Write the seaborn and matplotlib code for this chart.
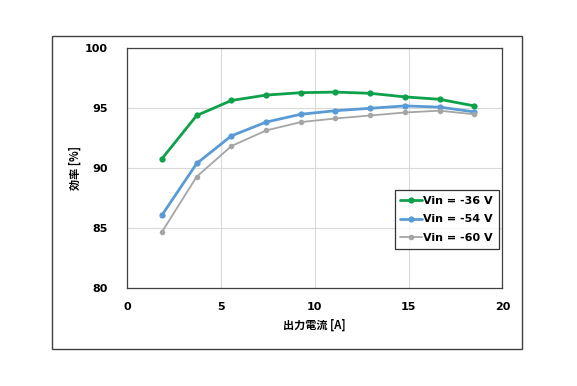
import pandas as pd
import numpy as np
import matplotlib.pyplot as plt
import seaborn as sns
from matplotlib.patches import Rectangle

current = [1.85, 3.7, 5.55, 7.4, 9.25, 11.1, 12.95, 14.8, 16.65, 18.5]
eff_36 = [90.8, 94.4, 95.65, 96.1, 96.3, 96.35, 96.25, 95.95, 95.75, 95.2]
eff_54 = [86.1, 90.4, 92.7, 93.85, 94.5, 94.8, 95.0, 95.2, 95.1, 94.7]
eff_60 = [84.7, 89.3, 91.85, 93.15, 93.85, 94.15, 94.4, 94.65, 94.8, 94.5]
labels = ['Vin = -36 V', 'Vin = -54 V', 'Vin = -60 V']
colors = ['#0DA14B', '#5B9BD5', '#A5A5A5']
widths = [2.0, 2.0, 1.3]
msizes = [4.5, 4.5, 4.0]

sns.set_style('white')
plt.rcParams['font.family'] = ['DejaVu Sans', 'Noto Sans CJK JP']
plt.rcParams['text.color'] = 'black'
plt.rcParams['xtick.color'] = 'black'
plt.rcParams['ytick.color'] = 'black'
plt.rcParams['axes.labelcolor'] = 'black'
jp = ['Noto Sans CJK JP', 'DejaVu Sans']

fig = plt.figure(figsize=(5.77, 3.86), dpi=100)
ax = fig.add_axes([0.2206, 0.2531, 0.65, 0.6218])

# outer frame around the whole chart
fig.patches.append(Rectangle((0.0906, 0.0959), 0.8146, 0.8117, transform=fig.transFigure,
                             fill=False, edgecolor='#404040', linewidth=1.0))

for vals, lab, c, lw, ms in zip([eff_36, eff_54, eff_60], labels, colors, widths, msizes):
    df = pd.DataFrame({'I': current, 'eff': vals})
    sns.lineplot(data=df, x='I', y='eff', ax=ax, color=c, linewidth=lw, marker='o',
                 markersize=ms, markeredgewidth=0, label=lab)

ax.set_xlim(0, 20)
ax.set_ylim(80, 100)
ax.set_xticks([0, 5, 10, 15, 20])
ax.set_yticks([80, 85, 90, 95, 100])
ax.grid(True, color='#D9D9D9', linewidth=0.8)
ax.tick_params(axis='both', length=0, labelsize=8)
ax.tick_params(axis='y', pad=14)
ax.tick_params(axis='x', pad=10)
for t in ax.get_xticklabels() + ax.get_yticklabels():
    t.set_fontweight('bold')
for s in ax.spines.values():
    s.set_color('#404040')
    s.set_linewidth(0.9)

ax.set_xlabel('出力電流 [A]', fontsize=8, fontweight='bold', labelpad=5, family=jp)
ax.set_ylabel('効率 [%]', fontsize=8, fontweight='bold', labelpad=2, family=jp)

leg = ax.legend(loc='lower right', bbox_to_anchor=(0.99, 0.164), borderaxespad=0,
                fontsize=8, frameon=True, fancybox=False, handlelength=2.0,
                handletextpad=0.1, labelspacing=0.8, borderpad=0.5)
leg.get_frame().set_edgecolor('black')
leg.get_frame().set_linewidth(0.9)
for t in leg.get_texts():
    t.set_fontweight('bold')

fig.savefig('out.png', dpi=100)
